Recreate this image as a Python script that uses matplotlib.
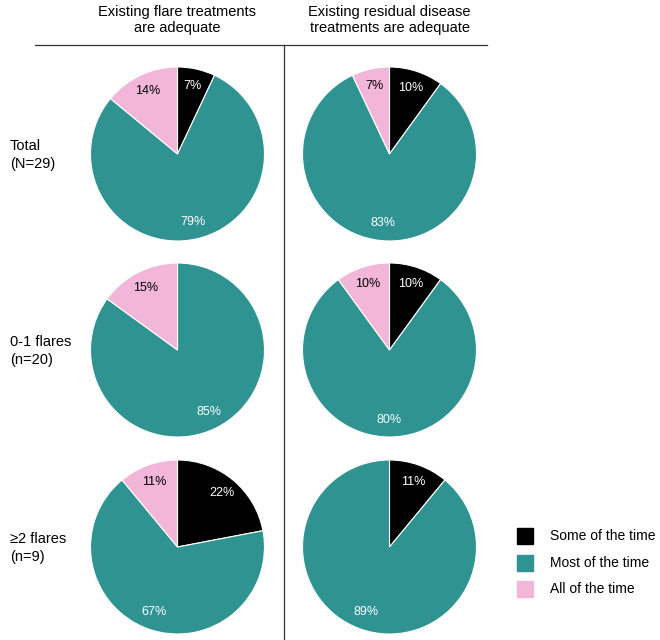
import matplotlib
matplotlib.use("Agg")
import matplotlib.pyplot as plt

plt.rcParams['font.family'] = ['Liberation Sans', 'DejaVu Sans']

categories = ["Some of the time", "Most of the time", "All of the time"]
colors = ["#000000", "#2E9391", "#F2B6D8"]
text_colors = ["white", "white", "black"]
col_titles = ["Existing flare treatments\nare adequate",
              "Existing residual disease\ntreatments are adequate"]
row_labels = ["Total\n(N=29)", "0-1 flares\n(n=20)", "≥2 flares\n(n=9)"]

flare_vals = [[7, 79, 14], [0, 85, 15], [22, 67, 11]]
residual_vals = [[10, 83, 7], [10, 80, 10], [11, 89, 0]]
data = [flare_vals, residual_vals]

W, H = 660, 640
fig = plt.figure(figsize=(W / 100, H / 100), dpi=100)

col_x = [177.5, 389.5]
row_y = [154, 350, 547]
R = 87

for c in range(2):
    for r in range(3):
        cx, cy = col_x[c], row_y[r]
        ax = fig.add_axes([(cx - R) / W, 1 - (cy + R) / H, 2 * R / W, 2 * R / H])
        vals = data[c][r]
        idx = [i for i, v in enumerate(vals) if v > 0]
        wedges, texts, autotexts = ax.pie(
            [vals[i] for i in idx], colors=[colors[i] for i in idx],
            startangle=90, counterclock=False,
            autopct=lambda p: f"{p:.0f}%", pctdistance=0.8,
            wedgeprops=dict(edgecolor="white", linewidth=0.8),
            textprops=dict(fontsize=9))
        for t, i in zip(autotexts, idx):
            t.set_color(text_colors[i])
        ax.set_xlim(-1, 1)
        ax.set_ylim(-1, 1)
        ax.set_aspect("equal")
        ax.axis("off")

# column titles
for c in range(2):
    fig.text(col_x[c] / W, 1 - 20 / H, col_titles[c], ha="center", va="center",
             fontsize=10.5, linespacing=1.25)

# row labels
for r in range(3):
    fig.text(10 / W, 1 - (row_y[r] + 1) / H, row_labels[r], ha="left", va="center",
             fontsize=10.5, linespacing=1.35)

# lines
line_ax = fig.add_axes([0, 0, 1, 1])
line_ax.set_xlim(0, W)
line_ax.set_ylim(H, 0)
line_ax.axis("off")
line_ax.plot([35, 487], [45, 45], color="#333333", lw=0.9)
line_ax.plot([284, 284], [45, 640], color="#333333", lw=0.9)

# legend
leg_y = [536, 563, 589]
for i, cat in enumerate(categories):
    line_ax.add_patch(plt.Rectangle((517, leg_y[i] - 8), 16, 16, color=colors[i]))
    line_ax.text(550, leg_y[i], cat, va="center", ha="left", fontsize=10)

fig.savefig("out.png", dpi=100)
